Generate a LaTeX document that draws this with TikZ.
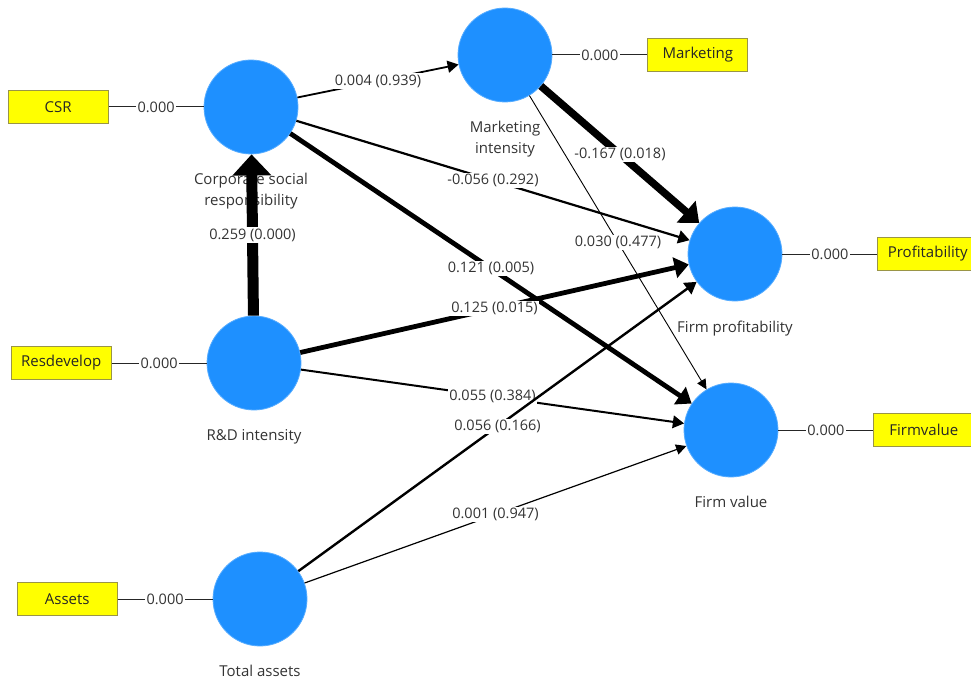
\documentclass[tikz,border=0pt]{standalone}
\usepackage{fontspec}
\setmainfont{Open Sans}
\usepackage{xcolor}
\usepackage{tikz}
\usetikzlibrary{arrows.meta, positioning}

\definecolor{lvblue}{RGB}{30,144,255}
\definecolor{indyellow}{RGB}{255,255,0}

\begin{document}
\begin{tikzpicture}[
    x=1pt, y=-1pt,
    node distance=95pt, % gap between indicator box and construct
    construct/.style={circle, fill=lvblue, draw=lvblue!75!white, line width=0.8pt, minimum size=94pt, inner sep=0pt},
    indicator/.style={rectangle, draw=yellow!55!black, fill=indyellow, line width=0.8pt, minimum width=100pt, minimum height=33pt, font=\fontsize{15}{18}\selectfont, text=black!85},
    conname/.style={align=center, inner sep=1pt, font=\fontsize{15}{21}\selectfont, text=black!80},
    weight/.style={fill=white, inner sep=1.5pt, font=\fontsize{14.5}{17}\selectfont, text=black!80},
    loading/.style={line width=1pt, color=black!85},
    effect/.style={-{Triangle[length=9pt 1.1, width=7pt 2.8]}, line width=#1, color=black}
]

    \useasboundingbox (0,0) rectangle (971,679);

    % --- Constructs ---
    \node[construct] (csr) at (251,107) {};
    \node[construct] (mkt) at (505,55) {};
    \node[construct] (rd) at (254,363) {};
    \node[construct] (ta) at (260,599) {};
    \node[construct] (fp) at (735,254) {};
    \node[construct] (fv) at (731,430) {};

    % --- Construct names ---
    \node[conname, below=18pt of csr] (csr-name) {Corporate social\\responsibility};
    \node[conname, below=18pt of mkt] (mkt-name) {Marketing\\intensity};
    \node[conname, below=18pt of rd] (rd-name) {R\&D intensity};
    \node[conname, below=17pt of ta] (ta-name) {Total assets};
    \node[conname, below=18pt of fp] (fp-name) {Firm profitability};
    \node[conname, below=17pt of fv] (fv-name) {Firm value};

    % --- Indicators ---
    \node[indicator, left=of csr] (csr-ind) {CSR};
    \node[indicator, left=of rd] (rd-ind) {Resdevelop};
    \node[indicator, left=of ta] (ta-ind) {Assets};
    \node[indicator, right=of mkt] (mkt-ind) {Marketing};
    \node[indicator, right=of fp] (fp-ind) {Profitability};
    \node[indicator, right=of fv] (fv-ind) {Firmvalue};

    % --- Loadings ---
    \draw[loading] (csr-ind) -- node[weight] {0.000} (csr);
    \draw[loading] (rd-ind) -- node[weight] {0.000} (rd);
    \draw[loading] (ta-ind) -- node[weight] {0.000} (ta);
    \draw[loading] (mkt) -- node[weight] {0.000} (mkt-ind);
    \draw[loading] (fp) -- node[weight] {0.000} (fp-ind);
    \draw[loading] (fv) -- node[weight] {0.000} (fv-ind);

    % --- Path coefficients ---
    \draw[effect=11pt] (rd) -- node[weight] {0.259 (0.000)} (csr);
    \draw[effect=1.8pt] (csr) -- node[weight] {0.004 (0.939)} (mkt);
    \draw[effect=2.2pt] (csr) -- node[weight] {-0.056 (0.292)} (fp);
    \draw[effect=4.8pt] (csr) -- node[weight] {0.121 (0.005)} (fv);
    \draw[effect=7.5pt] (mkt) -- node[weight] {-0.167 (0.018)} (fp);
    \draw[effect=0.9pt] (mkt) -- node[weight] {0.030 (0.477)} (fv);
    \draw[effect=4.8pt] (rd) -- node[weight] {0.125 (0.015)} (fp);
    \draw[effect=2pt] (rd) -- node[weight] {0.055 (0.384)} (fv);
    \draw[effect=2.4pt] (ta) -- node[weight] {0.056 (0.166)} (fp);
    \draw[effect=1.2pt] (ta) -- node[weight] {0.001 (0.947)} (fv);

\end{tikzpicture}
\end{document}
